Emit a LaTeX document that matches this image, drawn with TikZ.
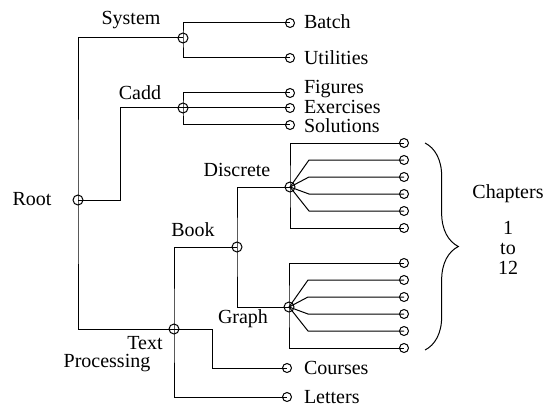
\documentclass[tikz,border=0pt]{standalone}
\usepackage{fontspec}
\setmainfont{Liberation Serif}
\usetikzlibrary{positioning, calc, decorations.pathreplacing}
\tikzset{
  branch/.style={circle, draw=black, line width=0.6pt, inner sep=0pt, minimum size=6pt},
  leaf/.style={circle, draw=black, line width=0.6pt, inner sep=0pt, minimum size=5.4pt},
  tag/.style={inner sep=1pt, font=\fontsize{12}{12}\selectfont},
  link/.style={line width=0.6pt}
}
\begin{document}
\begin{tikzpicture}[x=0.6pt, y=-0.6pt]
    \useasboundingbox (0,0) rectangle (544,406);

    % Nodos internos del arbol
    \node[branch] (root) at (78,200) {};
    \node[branch] (system) at (183,38) {};
    \node[branch] (cadd) at (183,108) {};
    \node[branch] (text) at (174,329) {};
    \node[branch] (book) at (237,247) {};
    \node[branch] (discrete) at (290,187) {};
    \node[branch] (graph) at (289,307) {};

    % Hojas con nombre
    \node[leaf] (batch) at (290,23) {};
    \node[leaf] (utilities) at (290,58) {};
    \node[leaf] (figures) at (290,93) {};
    \node[leaf] (exercises) at (290,108) {};
    \node[leaf] (solutions) at (290,125) {};
    \node[leaf] (courses) at (287,368) {};
    \node[leaf] (letters) at (287,397) {};

    % Hojas de los capitulos (6 por rama)
    \foreach \j in {1,...,6} {
        \pgfmathsetmacro{\yoff}{143 + (\j-1)*17}
        \node[leaf] (d\j) at (404,\yoff) {};
        \pgfmathsetmacro{\yoff}{263 + (\j-1)*17}
        \node[leaf] (g\j) at (404,\yoff) {};
    }

    % Etiquetas de los nodos internos
    \node[tag] (rootlabel) at (32,199) {Root};
    \node[tag] (systemlabel) at (131,20) {System};
    \node[tag] (caddlabel) at (140,93) {Cadd};
    \node[tag] (discretelabel) at (237,170) {Discrete};
    \node[tag] (booklabel) at (193,230) {Book};
    \node[tag] (graphlabel) at (243,319) {Graph};
    \node[tag] (textlabel) at (145,343) {Text};
    \node[tag] (processinglabel) at (107,363) {Processing};

    % Etiquetas de las hojas
    \node[tag, anchor=west] (batchlabel) at (302,22) {Batch};
    \node[tag, anchor=west] (utilitieslabel) at (302,58) {Utilities};
    \node[tag, anchor=west] (figureslabel) at (302,89) {Figures};
    \node[tag, anchor=west] (exerciseslabel) at (302,107) {Exercises};
    \node[tag, anchor=west] (solutionslabel) at (302,126) {Solutions};
    \node[tag, anchor=west] (courseslabel) at (302,368) {Courses};
    \node[tag, anchor=west] (letterslabel) at (302,397) {Letters};

    % Conexiones
    \draw[link] (system.center) -| (root.center) |- (text.center);
    \draw[link] (root.center) -- ++(42,0) |- (cadd.center);
    \draw[link] (batch.center) -| (system.center) |- (utilities.center);
    \draw[link] (figures.center) -| (cadd.center) |- (solutions.center);
    \draw[link] (cadd.center) -- (exercises.center);
    \draw[link] (book.center) -| (text.center) |- (letters.center);
    \draw[link] (text.center) -- ++(38,0) |- (courses.center);
    \draw[link] (discrete.center) -| (book.center) |- (graph.center);

    % Abanico de cada rama hacia sus capitulos
    \foreach \r/\p in {d/discrete, g/graph} {
        \draw[link] (\r1.center) -| (\p.center) |- (\r6.center);
        \foreach \j in {2,...,5} {
            \draw[link] (\p.center) -- ($(\p.center |- \r\j.center)+(19,0)$) -- (\r\j.center);
        }
    }

    % Llave y texto de los capitulos
    \coordinate (bracetop) at (425,143);
    \coordinate (bracebottom) at (425,350);
    \draw[link, decorate, decoration={brace, amplitude=20pt}] (bracetop) -- (bracebottom);
    \node[tag, align=center, anchor=north, inner sep=0pt] (chapters) at (508,184) {Chapters\\[9.6pt]1\\to\\12};
\end{tikzpicture}
\end{document}
